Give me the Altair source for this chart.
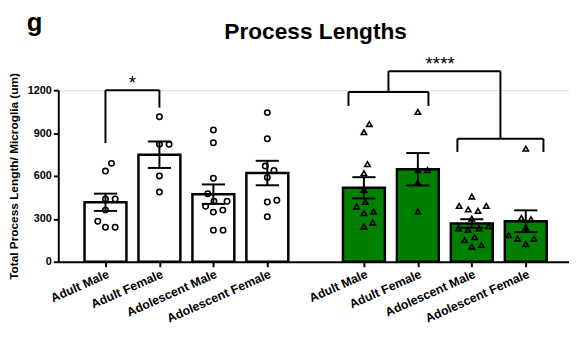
import json
import math
import altair as alt
import pandas as pd

# ---------------- data ----------------
CATEGORIES = ["Adult Male", "Adult Female", "Adolescent Male", "Adolescent Female"]
GROUPS = ["Group A", "Group B"]          # white bars / green bars

group_a_adult_male = [688, 634, 439, 439, 361, 283, 241, 241]
group_a_adult_female = [1014, 821, 821, 600, 487]
group_a_adol_male = [922, 832, 584, 476, 423, 423, 388, 361, 347, 221, 221]
group_a_adol_female = [1043, 860, 669, 639, 589, 430, 418, 315]

group_b_adult_male = [963, 906, 683, 619, 503, 418, 386, 350, 340, 274, 246]
group_b_adult_female = [1048, 641, 641, 552, 352]
group_b_adol_male = [456, 390, 390, 366, 355, 302, 249, 234, 222, 234, 172, 151, 118, 106]
group_b_adol_female = [791, 306, 297, 239, 186, 162, 161, 124]

Y_TICKS = [0, 300, 600, 900, 1200]
Y_TITLE = "Total Process Length/ Microglia (um)"
TITLE = "Process Lengths"
PANEL = "g"

SIG_LEFT = "*"
SIG_RIGHT = "****"

# ---------------- layout constants ----------------
STEP_PX = 55.8           # pixels between neighbouring categories
GROUP_GAP = 0.79         # extra gap between the two groups (in category steps)
PLOT_W, PLOT_H = 518, 174
X_MIN = -43.7 / STEP_PX
X_MAX = X_MIN + PLOT_W / STEP_PX
Y_MAX = 1200
PX_PER_UNIT = PLOT_H / Y_MAX
SWARM_D = 10.0           # px separation of points in the swarm
GREEN = "#008000"
FONT = "Liberation Sans"

series = {
    (GROUPS[0], CATEGORIES[0]): group_a_adult_male,
    (GROUPS[0], CATEGORIES[1]): group_a_adult_female,
    (GROUPS[0], CATEGORIES[2]): group_a_adol_male,
    (GROUPS[0], CATEGORIES[3]): group_a_adol_female,
    (GROUPS[1], CATEGORIES[0]): group_b_adult_male,
    (GROUPS[1], CATEGORIES[1]): group_b_adult_female,
    (GROUPS[1], CATEGORIES[2]): group_b_adol_male,
    (GROUPS[1], CATEGORIES[3]): group_b_adol_female,
}


def base_pos(g, c):
    gi = GROUPS.index(g)
    return CATEGORIES.index(c) + gi * (len(CATEGORIES) + GROUP_GAP)


def swarm(values):
    """Deterministic beeswarm offsets (px) for values."""
    order = sorted(range(len(values)), key=lambda i: values[i])
    placed = []
    offs = [0.0] * len(values)
    for i in order:
        y = values[i] * PX_PER_UNIT
        cands = [0.0]
        for (px, py) in placed:
            dy = abs(py - y)
            if dy < SWARM_D:
                dx = math.sqrt(SWARM_D ** 2 - dy ** 2)
                cands += [px + dx, px - dx]

        def ok(x):
            return all((x - px) ** 2 + (y - py) ** 2 >= SWARM_D ** 2 - 1e-6
                       for px, py in placed)
        valid = [c for c in cands if ok(c)]
        best = sorted(valid, key=lambda c: (round(abs(c), 6), -c))[0]
        offs[i] = best
        placed.append((best, y))
    return offs


pt_rows, sum_rows = [], []
for (g, c), vals in series.items():
    p = base_pos(g, c)
    offs = swarm(vals)
    for v, o in zip(vals, offs):
        pt_rows.append({"group": g, "category": c, "value": v, "xp": p + o / STEP_PX})
    s = pd.Series(vals)
    m = s.mean()
    sem = s.std(ddof=1) / math.sqrt(len(s))
    cap = 12 / STEP_PX
    sum_rows.append({"group": g, "category": c, "pos": p, "mean": m,
                     "lo": m - sem, "hi": m + sem, "cl": p - cap, "cr": p + cap})
points = pd.DataFrame(pt_rows)
summary = pd.DataFrame(sum_rows)


def P(g, c):
    return base_pos(GROUPS[g], CATEGORIES[c])


br = []


def seg(x, x2, y, y2):
    br.append({"x": x, "x2": x2, "y": y, "y2": y2})


# left: Adult Male vs Adult Female (group A)
seg(P(0, 0), P(0, 1), 1200, 1200)
seg(P(0, 0), P(0, 0), 1200, 830)
seg(P(0, 1), P(0, 1), 1200, 1078)
# right: adults vs adolescents (group B)
aL, aR = P(1, 0) - 0.286, P(1, 1) + 0.196
dL, dR = P(1, 2) - 0.267, P(1, 3) + 0.328
aM, dM = (aL + aR) / 2, (dL + dR) / 2
seg(aL, aR, 1188, 1188)
seg(aL, aL, 1188, 1090)
seg(aR, aR, 1188, 1090)
seg(dL, dR, 860, 860)
seg(dL, dL, 860, 768)
seg(dR, dR, 860, 768)
seg(aM, dM, 1333, 1333)
seg(aM, aM, 1333, 1188)
seg(dM, dM, 1333, 860)
brackets = pd.DataFrame(br)

stars = pd.DataFrame([
    {"x": (P(0, 0) + P(0, 1)) / 2, "y": 1200, "t": SIG_LEFT},
    {"x": (aM + dM) / 2 - 0.08, "y": 1333, "t": SIG_RIGHT},
])

tick_positions = [base_pos(g, c) for g in GROUPS for c in CATEGORIES]
split = len(CATEGORIES) - 0.5
shift = len(CATEGORIES) + GROUP_GAP
label_expr = (f"{json.dumps(CATEGORIES)}[round(datum.value > {split} ? "
              f"datum.value - {shift} : datum.value)]")

xscale = alt.Scale(domain=[X_MIN, X_MAX], nice=False, zero=False)
yscale = alt.Scale(domain=[0, Y_MAX], nice=False)

xaxis = alt.Axis(values=tick_positions, labelExpr=label_expr, title=None, grid=False,
                 labelAngle=-24, labelAlign="right", labelBaseline="top",
                 labelFontSize=12.5, labelFontWeight="bold", labelColor="black",
                 labelFont=FONT, labelPadding=1, labelOverlap=False, labelBound=False,
                 domainColor="black", domainWidth=2, tickColor="black",
                 tickWidth=2, tickSize=5)
yaxis = alt.Axis(values=Y_TICKS, format="d", title=Y_TITLE, grid=False,
                 labelFontSize=11, labelFontWeight="bold", labelColor="black",
                 labelFont=FONT, labelPadding=2,
                 domainColor="black", domainWidth=2, tickColor="black",
                 tickWidth=2, tickSize=5,
                 titleFont=FONT, titleFontSize=12, titleFontWeight="bold",
                 titleColor="black", titleAngle=-90, titleX=-38, titleY=PLOT_H / 2,
                 titleAlign="center", titleBaseline="bottom")

bars = alt.Chart(summary).mark_bar(width=42.5, stroke="black", strokeWidth=2.5).encode(
    x=alt.X("pos:Q", scale=xscale, axis=xaxis),
    y=alt.Y("mean:Q", scale=yscale, axis=yaxis),
    fill=alt.Fill("group:N", scale=alt.Scale(domain=GROUPS, range=["white", GREEN]),
                  legend=None),
)

pts = alt.Chart(points).mark_point(filled=False, stroke="black", strokeWidth=1.6,
                                   size=30, opacity=1).encode(
    x=alt.X("xp:Q", scale=xscale),
    y=alt.Y("value:Q", scale=yscale),
    shape=alt.Shape("group:N", scale=alt.Scale(domain=GROUPS,
                                               range=["circle", "triangle-up"]),
                    legend=None),
)

err = alt.Chart(summary).mark_rule(color="black", strokeWidth=2).encode(
    x=alt.X("pos:Q", scale=xscale), y=alt.Y("lo:Q", scale=yscale), y2="hi:Q")
cap_hi = alt.Chart(summary).mark_rule(color="black", strokeWidth=2).encode(
    x=alt.X("cl:Q", scale=xscale), x2="cr:Q", y=alt.Y("hi:Q", scale=yscale))
cap_lo = alt.Chart(summary).mark_rule(color="black", strokeWidth=2).encode(
    x=alt.X("cl:Q", scale=xscale), x2="cr:Q", y=alt.Y("lo:Q", scale=yscale))

brk = alt.Chart(brackets).mark_rule(color="black", strokeWidth=2).encode(
    x=alt.X("x:Q", scale=xscale), x2="x2:Q",
    y=alt.Y("y:Q", scale=yscale), y2="y2:Q")

star_txt = alt.Chart(stars).mark_text(font=FONT, fontSize=19, color="black",
                                      baseline="alphabetic", align="center", dy=-1).encode(
    x=alt.X("x:Q", scale=xscale), y=alt.Y("y:Q", scale=yscale), text="t:N")

panel = alt.Chart(pd.DataFrame({"t": [PANEL]})).mark_text(
    font=FONT, fontSize=26, fontWeight="bold", color="black",
    align="center", baseline="alphabetic").encode(
    x=alt.value(-24), y=alt.value(-60.5), text="t:N")

title_txt = alt.Chart(pd.DataFrame({"t": [TITLE]})).mark_text(
    font=FONT, fontSize=23, fontWeight="bold", color="black",
    align="center", baseline="alphabetic").encode(
    x=alt.value(PLOT_W / 2 + 2), y=alt.value(-52), text="t:N")

chart = alt.layer(bars, pts, err, cap_hi, cap_lo, brk, star_txt, panel,
                  title_txt).properties(
    width=PLOT_W, height=PLOT_H,
    autosize=alt.AutoSizeParams(type="none"),
    padding={"left": 51, "top": 81, "right": 0, "bottom": 74},
).configure_view(stroke=None).configure(font=FONT)

chart.save("out.html", embed_options={"renderer": "svg", "actions": False})
